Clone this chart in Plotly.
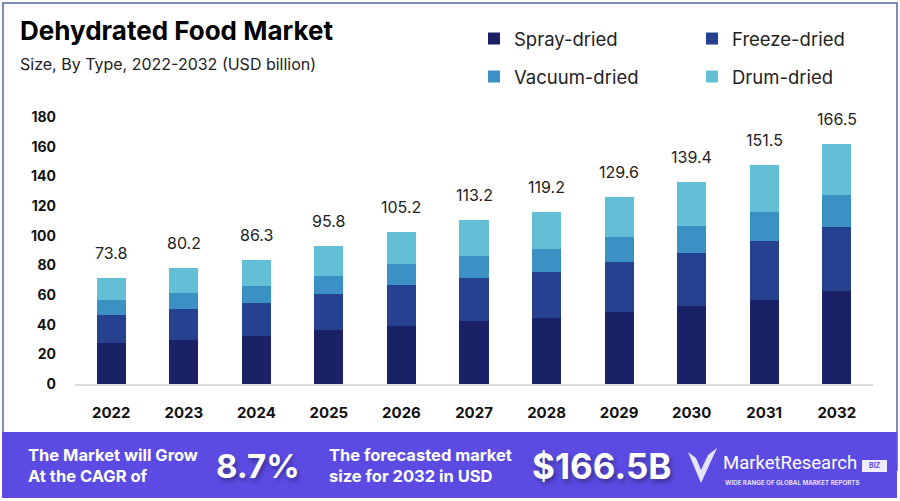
import plotly.graph_objects as go

years = ["2022", "2023", "2024", "2025", "2026", "2027", "2028", "2029", "2030", "2031", "2032"]
spray_dried = [27.7, 29.9, 32.2, 36.2, 39.1, 42.7, 44.5, 48.8, 52.6, 56.7, 62.5]
freeze_dried = [18.9, 20.7, 22.5, 24.5, 27.7, 28.8, 31.3, 33.5, 35.8, 39.6, 43.2]
vacuum_dried = [9.9, 10.6, 11.2, 12.4, 14.0, 14.9, 15.3, 16.9, 18.2, 19.8, 21.6]
drum_dried = [14.8, 17.3, 18.0, 20.2, 21.6, 24.1, 25.0, 26.8, 29.5, 31.7, 34.8]
total_labels = ["73.8", "80.2", "86.3", "95.8", "105.2", "113.2", "119.2", "129.6", "139.4", "151.5", "166.5"]
y_ticks = [0, 20, 40, 60, 80, 100, 120, 140, 160, 180]

colors = {"Spray-dried": "#1a2166", "Freeze-dried": "#25418f",
          "Vacuum-dried": "#3b90c4", "Drum-dried": "#62bfd5"}

FONT = "Inter"
W, H = 900, 501
L, R, T, B = 75, 27, 117, 117
PW, PH = W - L - R, H - T - B


def bx(px):
    return (px - L) / PW


def by(px):
    return (H - B - px) / PH


fig = go.Figure()
series = [("Spray-dried", spray_dried, "legend"), ("Freeze-dried", freeze_dried, "legend"),
          ("Vacuum-dried", vacuum_dried, "legend2"), ("Drum-dried", drum_dried, "legend2")]
for name, vals, lg in series:
    fig.add_trace(go.Bar(x=years, y=vals, name=name,
                         marker=dict(color=colors[name], line=dict(width=0)),
                         width=0.4, legend=lg))

tops = [a + b + c + d for a, b, c, d in zip(spray_dried, freeze_dried, vacuum_dried, drum_dried)]
annotations = []
for i, (t, lab) in enumerate(zip(tops, total_labels)):
    annotations.append(dict(x=i, y=t, xref="x", yref="y", text=lab, showarrow=False,
                            yanchor="bottom", yshift=13,
                            font=dict(family=FONT, size=16, color="#222222")))

white = "#ffffff"
annotations += [
    dict(x=bx(18), y=by(30), text="<b>Dehydrated Food Market</b>", xanchor="left", yanchor="middle",
         font=dict(family=FONT, size=26, color="#000000")),
    dict(x=bx(18), y=by(64), text="Size, By Type, 2022-2032 (USD billion)", xanchor="left",
         yanchor="middle", font=dict(family=FONT, size=16, color="#222222")),
    dict(x=bx(26), y=by(465), text="<b>The Market will Grow<br>At the CAGR of</b>", xanchor="left",
         yanchor="middle", align="left", font=dict(family=FONT, size=16.5, color=white)),
    dict(x=bx(258), y=by(466), text="<b>8.7%</b>", xanchor="center", yanchor="middle",
         font=dict(family=FONT, size=33, color=white, shadow="2px 3px 4px rgba(0,0,0,0.35)")),
    dict(x=bx(327), y=by(465), text="<b>The forecasted market<br>size for 2032 in USD</b>",
         xanchor="left", yanchor="middle", align="left",
         font=dict(family=FONT, size=16.5, color=white)),
    dict(x=bx(601), y=by(466), text="<b>$166.5B</b>", xanchor="center", yanchor="middle",
         font=dict(family=FONT, size=35, color=white, shadow="2px 3px 4px rgba(0,0,0,0.35)")),
    dict(x=bx(721), y=by(463), text="MarketResearch", xanchor="left", yanchor="middle",
         font=dict(family="Roboto", size=18.5, color=white)),
    dict(x=bx(874.5), y=by(466), text="<b>BIZ</b>", xanchor="center", yanchor="middle",
         font=dict(family=FONT, size=7, color="#5b4be2")),
    dict(x=bx(723), y=by(482), text="<b>WIDE RANGE OF GLOBAL MARKET REPORTS</b>", xanchor="left",
         yanchor="middle", font=dict(family=FONT, size=6.2, color="rgba(255,255,255,0.85)")),
]
for a in annotations[len(tops):]:
    a.update(xref="paper", yref="paper", showarrow=False)

shapes = [
    dict(type="rect", xref="paper", yref="paper", x0=bx(3), x1=bx(897), y0=by(470), y1=by(3),
         line=dict(color="#5465a8", width=1.5), fillcolor="rgba(0,0,0,0)", layer="below"),
    dict(type="rect", xref="paper", yref="paper", x0=bx(2), x1=bx(897), y0=by(498), y1=by(432),
         line=dict(width=0), fillcolor="#5b4be2", layer="above"),
    dict(type="path", xref="paper", yref="paper", layer="above",
         path=f"M {bx(688)},{by(452)} L {bx(701)},{by(483)} L {bx(717)},{by(448)} L {bx(708)},{by(455)} "
              f"L {bx(701)},{by(470)} L {bx(696)},{by(458)} Z",
         fillcolor="rgba(255,255,255,0.85)", line=dict(width=0)),
    dict(type="rect", xref="paper", yref="paper", layer="above",
         x0=bx(862), x1=bx(887), y0=by(472), y1=by(460),
         fillcolor="rgba(255,255,255,0.9)", line=dict(width=0)),
]

legend_common = dict(orientation="h", xref="container", yref="container", xanchor="left",
                     yanchor="middle", entrywidth=173,
                     font=dict(family=FONT, size=18.5, color="#222222"),
                     traceorder="normal", itemclick=False, itemdoubleclick=False,
                     bgcolor="rgba(0,0,0,0)")

fig.update_layout(
    width=W, height=H,
    margin=dict(l=L, r=R, t=T, b=B, autoexpand=False),
    paper_bgcolor="white", plot_bgcolor="white",
    barmode="stack",
    showlegend=True,
    legend=dict(legend_common, x=474 / W, y=1 - 39 / H),
    legend2=dict(legend_common, x=474 / W, y=1 - 77 / H),
    xaxis=dict(type="category", range=[-0.5, 10.5], showgrid=False, showline=True,
               linecolor="#dcdcdc", linewidth=1.5, ticks="", ticklabelstandoff=14,
               tickfont=dict(family=FONT, size=15, color="#111111", weight="bold")),
    yaxis=dict(range=[0, 180], tickvals=y_ticks, showgrid=False, zeroline=False, showline=False,
               ticks="", ticklabelstandoff=18,
               tickfont=dict(family=FONT, size=14, color="#111111", weight="bold")),
    annotations=annotations,
    shapes=shapes,
)

fig.write_html("out.html", config={"displayModeBar": False},
               post_script="document.body.style.margin='0';document.body.style.overflow='hidden';")
